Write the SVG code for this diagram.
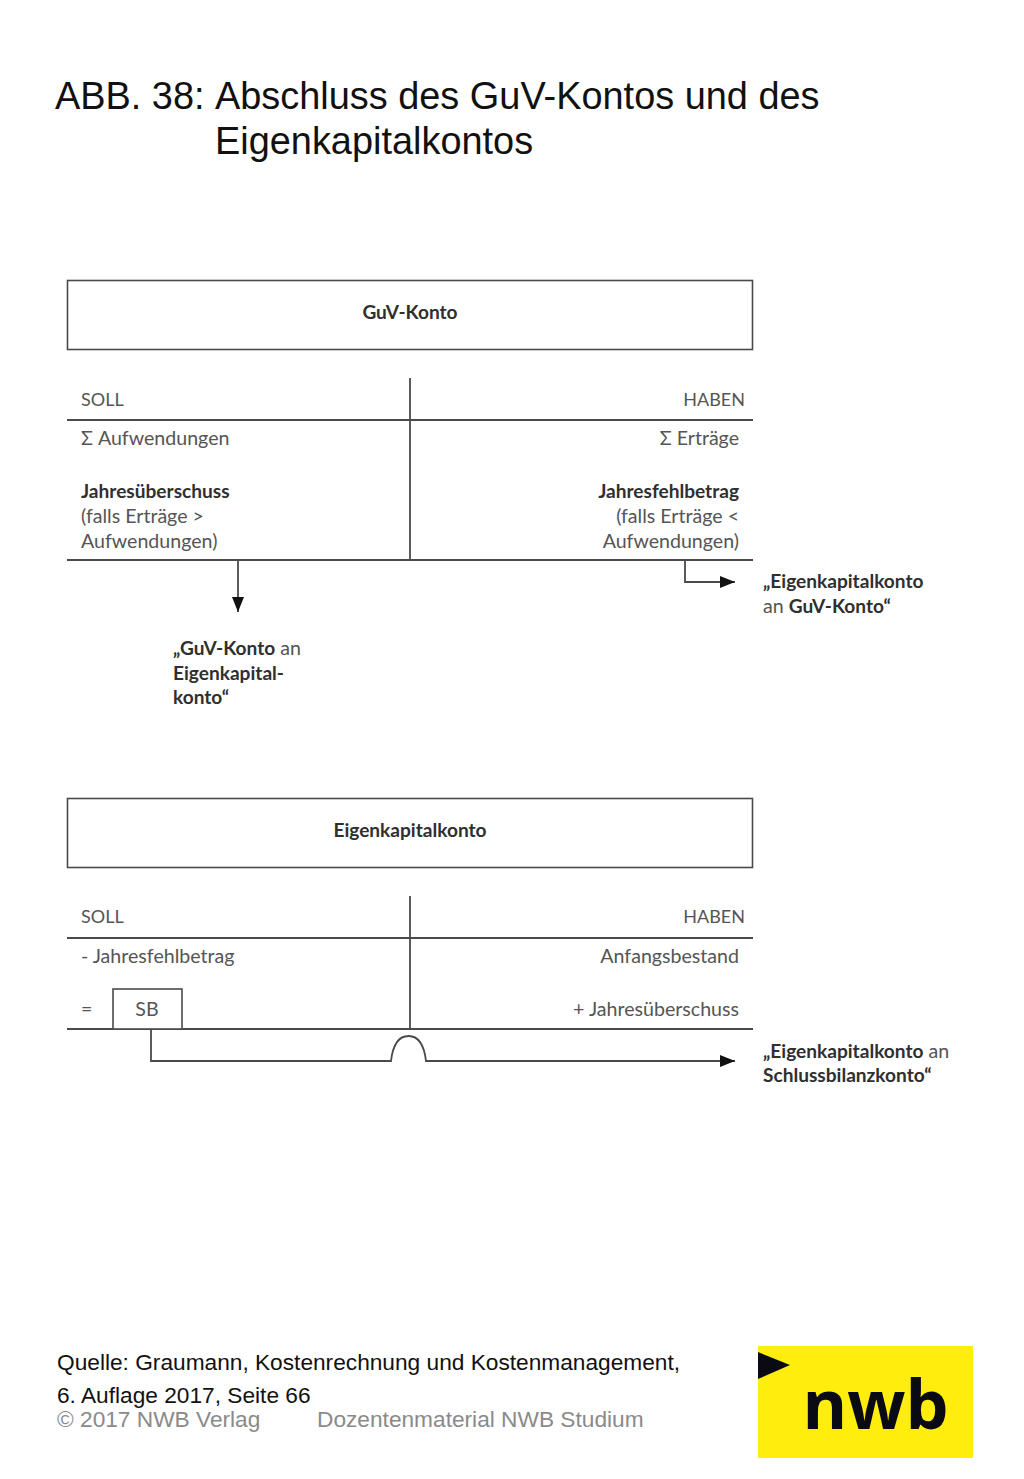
<svg xmlns="http://www.w3.org/2000/svg" width="1024" height="1479" viewBox="0 0 1024 1479">
<style>
.t{font-family:"Liberation Sans",Arial,sans-serif;fill:#111}
.h{font-size:37.9px}
.q{font-size:22.7px}
.c{font-size:22.7px;fill:#8a8a8a}
.d{font-family:Lato,"Open Sans",sans-serif;font-size:19.6px;fill:#555}
.cap{font-size:18px}
.b{font-weight:700;font-size:19.1px;fill:#2f2f2f}
.e{text-anchor:end}
.m{text-anchor:middle}
.l{fill:none;stroke:#4a4a4a;stroke-width:1.8}
.box{fill:#fff;stroke:#4a4a4a;stroke-width:1.6}
</style>
<defs>
<marker id="arr" markerUnits="userSpaceOnUse" markerWidth="16" markerHeight="12" refX="15" refY="6" orient="auto"><path d="M0 0L15 6L0 12Z" fill="#111"/></marker>
</defs>
<rect width="1024" height="1479" fill="#fff"/>
<g id="title">
<text class="t h" x="55" y="109">ABB. 38:</text>
<text class="t h" x="215" y="109">Abschluss des GuV-Kontos und des</text>
<text class="t h" x="215" y="154">Eigenkapitalkontos</text>
</g>
<g id="guv-konto">
<rect class="box" x="67.500" y="280.500" width="685" height="69"/>
<text class="d b m" x="410" y="319">GuV-Konto</text>
</g>
<g id="guv-t-account">
<path class="l" d="M67 420H753M67 560H753M410 378V560"/>
<text class="d cap" x="81" y="406">SOLL</text>
<text class="d cap e" x="745" y="406">HABEN</text>
<text class="d" x="81" y="445">Σ Aufwendungen</text>
<text class="d e" x="739" y="445">Σ Erträge</text>
<text class="d b" x="81" y="498">Jahresüberschuss</text>
<text class="d" x="81" y="523">(falls Erträge &gt;</text>
<text class="d" x="81" y="548">Aufwendungen)</text>
<text class="d b e" x="739" y="498">Jahresfehlbetrag</text>
<text class="d e" x="739" y="523">(falls Erträge &lt;</text>
<text class="d e" x="739" y="548">Aufwendungen)</text>
</g>
<g id="label-guv-an-ek">
<text class="d" x="173" y="655"><tspan class="b">„GuV-Konto</tspan> an</text>
<text class="d b" x="173" y="680">Eigenkapital-</text>
<text class="d b" x="173" y="704">konto“</text>
</g>
<g id="label-ek-an-guv">
<text class="d b" x="763" y="588">„Eigenkapitalkonto</text>
<text class="d" x="763" y="613">an <tspan class="b">GuV-Konto“</tspan></text>
</g>
<g id="eigenkapitalkonto">
<rect class="box" x="67.500" y="798.500" width="685" height="69"/>
<text class="d b m" x="410" y="837">Eigenkapitalkonto</text>
</g>
<g id="ek-t-account">
<path class="l" d="M67 938H753M67 1029H753M410 896V1029"/>
<text class="d cap" x="81" y="923">SOLL</text>
<text class="d cap e" x="745" y="923">HABEN</text>
<text class="d" x="81" y="963">- Jahresfehlbetrag</text>
<text class="d e" x="739" y="963">Anfangsbestand</text>
<text class="d" x="81" y="1016">=</text>
<text class="d e" x="739" y="1016">+ Jahresüberschuss</text>
</g>
<g id="sb">
<rect class="box" x="113" y="989" width="69" height="40"/>
<text class="d m" x="147" y="1016">SB</text>
</g>
<g id="label-ek-an-sb">
<text class="d" x="763" y="1058"><tspan class="b">„Eigenkapitalkonto</tspan> an</text>
<text class="d b" x="763" y="1082">Schlussbilanzkonto“</text>
</g>
<g id="connectors">
<path class="l" marker-end="url(#arr)" d="M238 560V612"/>
<path class="l" marker-end="url(#arr)" d="M685 560V582H735"/>
<path class="l" marker-end="url(#arr)" d="M151 1029V1061H391C393 1044 399 1036 408.500 1036C418 1036 424 1044 426 1061H735"/>
</g>
<g id="source">
<text class="t q" x="57" y="1370">Quelle: Graumann, Kostenrechnung und Kostenmanagement,</text>
<text class="t q" x="57" y="1403">6. Auflage 2017, Seite 66</text>
<text class="t c" x="57" y="1427">© 2017 NWB Verlag</text>
<text class="t c" x="317" y="1427">Dozentenmaterial NWB Studium</text>
</g>
<g id="logo">
<rect x="758" y="1346" width="215" height="112" fill="#ffed0d"/>
<path d="M758 1352L790 1365L758 1379Z" fill="#0a0a14"/>
<text x="875.500" y="1429" text-anchor="middle" font-family="'Open Sans','Noto Sans',sans-serif" font-weight="700" font-size="68" fill="#0a0a14">nwb</text>
</g>
</svg>
